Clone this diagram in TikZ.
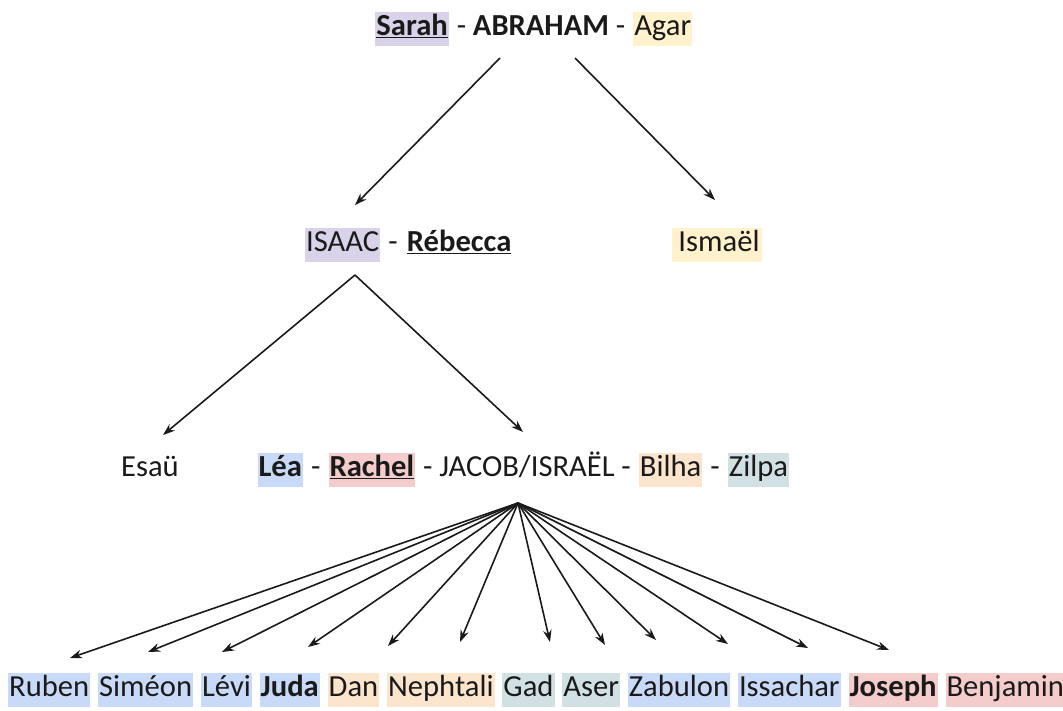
\documentclass[tikz,border=0pt]{standalone}
\usepackage{fontspec}
\setmainfont{Carlito}
\usetikzlibrary{arrows.meta,positioning}
\definecolor{purp}{HTML}{D9D2E9}
\definecolor{yel}{HTML}{FFF2CC}
\definecolor{blu}{HTML}{C9DAF8}
\definecolor{red}{HTML}{F4CCCC}
\definecolor{ora}{HTML}{FCE5CD}
\definecolor{tea}{HTML}{D0E0E3}
\definecolor{ink}{HTML}{1A1A1A}
\newcommand{\dsep}{\kern.22em-\kern.22em}
\begin{document}
\begin{tikzpicture}[x=1pt,y=-1pt,
  w/.style={inner xsep=1pt, inner ysep=2pt, text height=21.5pt, text depth=8pt,
    font=\fontsize{30.6}{31}\selectfont, text=ink},
  arr/.style={draw=ink, line width=1.6pt, -{Stealth[length=12pt,width=8.5pt]}}]
\useasboundingbox (0,0) rectangle (1063,710);
% row 1
\node[w] (abr) at (541,29) {\dsep\textbf{ABRAHAM}\dsep};
\node[w, fill=purp, left=0pt of abr] (sarah) {\textbf{\underline{Sarah}}};
\node[w, fill=yel, right=0pt of abr] (agar) {Agar};
% row 2
\node[w, fill=purp, anchor=west] (isaac) at (305,245) {ISAAC};
\node[w, right=0pt of isaac] (d2) {\dsep};
\node[w, right=0pt of d2] (rebecca) {\textbf{\underline{Rébecca}}};
\node[w, fill=yel] (ismael) at (717,245) {\kern5pt Ismaël\kern1pt};
% row 3
\node[w] (esau) at (150,470) {Esaü};
\node[w] (jacob) at (527,470) {\dsep JACOB/ISRAËL\dsep};
\node[w, fill=red, left=0pt of jacob] (rachel) {\textbf{\underline{Rachel}}};
\node[w, left=0pt of rachel] (d3) {\dsep};
\node[w, fill=blu, left=0pt of d3] (lea) {\textbf{Léa}};
\node[w, fill=ora, right=0pt of jacob] (bilha) {Bilha};
\node[w, right=0pt of bilha] (d4) {\dsep};
\node[w, fill=tea, right=0pt of d4] (zilpa) {Zilpa};
% row 4
\node[w, fill=blu, anchor=west] (ruben) at (8,690) {Ruben};
\node[w, fill=blu, right=7.5pt of ruben] (simeon) {Siméon};
\node[w, fill=blu, right=7.5pt of simeon] (levi) {Lévi};
\node[w, fill=blu, right=7.5pt of levi] (juda) {\textbf{Juda}};
\node[w, fill=ora, right=7.5pt of juda] (dan) {Dan};
\node[w, fill=ora, right=7.5pt of dan] (nephtali) {Nephtali};
\node[w, fill=tea, right=7.5pt of nephtali] (gad) {Gad};
\node[w, fill=tea, right=7.5pt of gad] (aser) {Aser};
\node[w, fill=blu, right=7.5pt of aser] (zabulon) {Zabulon};
\node[w, fill=blu, right=7.5pt of zabulon] (issachar) {Issachar};
\node[w, fill=red, right=7.5pt of issachar] (joseph) {\textbf{Joseph}};
\node[w, fill=red, right=7.5pt of joseph] (benjamin) {Benjamin};
% connector points
\coordinate (a1) at (500,58);
\coordinate (a2) at (575,58);
\coordinate (t1) at (355,205);
\coordinate (t2) at (715,200);
\coordinate (i0) at (355,275);
\coordinate (t3) at (163,435);
\coordinate (t4) at (523,432);
\coordinate (j0) at (518,503);
\draw[arr] (a1) -- (t1);
\draw[arr] (a2) -- (t2);
\draw[arr] (i0) -- (t3);
\draw[arr] (i0) -- (t4);
\foreach \x/\y in {70/658,148/652,222/652,308/647,388/646,460/642,550/642,605/645,656/640,728/644,808/648,889/650}
  \draw[arr] (j0) -- (\x,\y);
\end{tikzpicture}
\end{document}
